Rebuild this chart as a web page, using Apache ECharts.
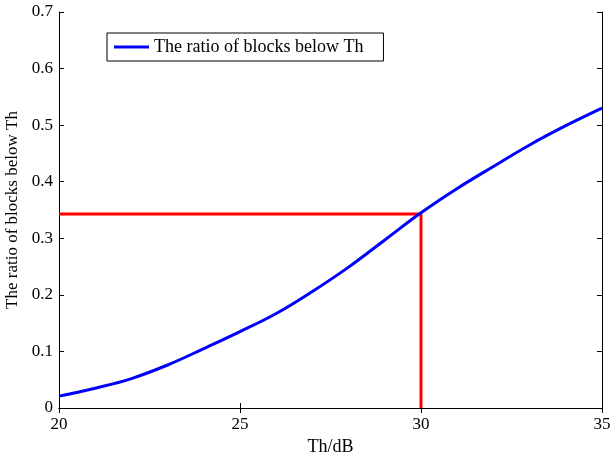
<!DOCTYPE html>
<html><head><meta charset="utf-8">
<script src="https://cdn.jsdelivr.net/npm/echarts@6/dist/echarts.min.js"></script>
<style>html,body{margin:0;padding:0;background:#fff}#c{width:610px;height:454px}</style>
</head><body><div id="c"></div>
<script>
const thValues = [20, 21, 22, 23, 24, 25, 26, 27, 28, 29, 30, 31, 32, 33, 34, 35];
const ratioValues = [0.021, 0.035, 0.052, 0.076, 0.105, 0.135, 0.167, 0.206, 0.249, 0.297, 0.345, 0.388, 0.427, 0.465, 0.499, 0.530];
const markerTh = [20, 30, 30];
const markerRatio = [0.343, 0.343, 0];
const xTicks = [20, 25, 30, 35];
const seriesName = 'The ratio of blocks below Th';

const font = 'Liberation Serif, Times New Roman, serif';
const chart = echarts.init(document.getElementById('c'), null, {renderer: 'canvas'});
const axLine = {show: true, lineStyle: {color: '#000', width: 1}};
const tick = {show: true, inside: true, length: 5, lineStyle: {color: '#000'}};
chart.setOption({
  animation: false,
  backgroundColor: '#fff',
  grid: {left: 59, right: 8, top: 12, bottom: 46, containLabel: false, outerBoundsMode: 'none'},
  legend: {
    left: 107, top: 33,
    data: [{name: seriesName, icon: 'rect'}],
    itemWidth: 35, itemHeight: 3, itemGap: 0,
    borderColor: '#000', borderWidth: 1,
    padding: [5, 20, 5, 7],
    textStyle: {fontFamily: font, fontSize: 18, color: '#000'}
  },
  xAxis: [{
    type: 'value', min: 20, max: 35, interval: 5, position: 'bottom',
    name: 'Th/dB', nameLocation: 'middle', nameGap: 28,
    nameTextStyle: {fontFamily: font, fontSize: 18, color: '#000'},
    axisLine: axLine, axisTick: tick, splitLine: {show: false},
    axisLabel: {fontFamily: font, fontSize: 17, color: '#000', margin: 8,
      formatter: v => xTicks.includes(v) ? String(v) : ''}
  }, {
    type: 'value', min: 20, max: 35, interval: 5, position: 'top',
    axisLine: axLine, axisTick: tick, axisLabel: {show: false}, splitLine: {show: false}
  }],
  yAxis: [{
    type: 'value', min: 0, max: 0.7, interval: 0.1, position: 'left',
    name: seriesName, nameLocation: 'middle', nameGap: 35,
    nameTextStyle: {fontFamily: font, fontSize: 17, color: '#000'},
    axisLine: axLine, axisTick: tick, splitLine: {show: false},
    axisLabel: {fontFamily: font, fontSize: 17, color: '#000', margin: 6,
      formatter: v => String(Math.round(v * 10) / 10)}
  }, {
    type: 'value', min: 0, max: 0.7, interval: 0.1, position: 'right',
    axisLine: axLine, axisTick: tick, axisLabel: {show: false}, splitLine: {show: false}
  }],
  series: [{
    name: seriesName, type: 'line', smooth: 0.4, showSymbol: false,
    data: thValues.map((x, i) => [x, ratioValues[i]]),
    lineStyle: {color: '#0000ff', width: 3}, itemStyle: {color: '#0000ff'}, z: 3
  }, {
    name: 'marker', type: 'line', showSymbol: false,
    data: markerTh.map((x, i) => [x, markerRatio[i]]),
    lineStyle: {color: '#ff0000', width: 3}, itemStyle: {color: '#ff0000'}, z: 2
  }]
});
</script></body></html>
